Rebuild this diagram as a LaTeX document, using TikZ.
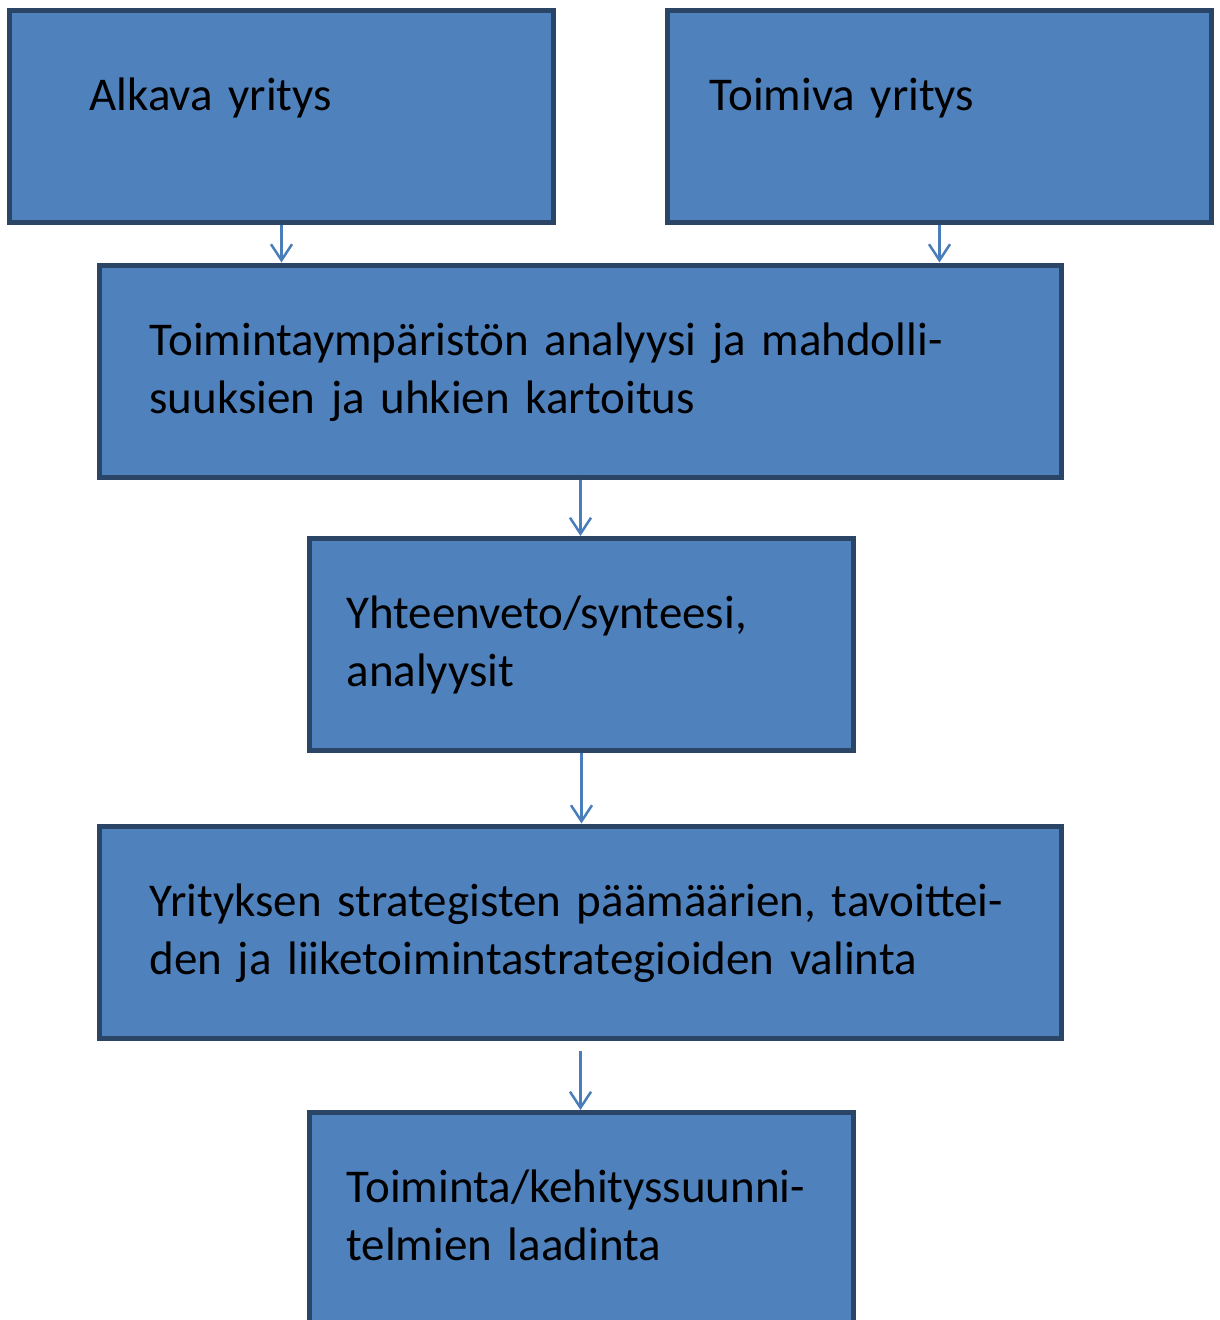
\documentclass[tikz,border=0pt]{standalone}
\usepackage{fontspec}
\setmainfont{Carlito}
\usetikzlibrary{arrows.meta,positioning}

\definecolor{boxfill}{HTML}{4F81BD}
\definecolor{boxline}{HTML}{2A4566}
\definecolor{arrowblue}{HTML}{4A7EBB}

\begin{document}
\begin{tikzpicture} [
		x=1pt, y=-1pt,
		box/.style   = { rectangle, draw=boxline, fill=boxfill, line width=5pt,
			anchor=north west, inner sep=0pt, align=left,
			minimum height=212pt, text height=36pt, text depth=68pt,
			font=\fontsize{47pt}{58pt}\selectfont },
		narrow/.style = { box, minimum width=544pt, text width=470pt },
		wide/.style   = { box, minimum width=962pt, text width=862pt },
		line/.style   = { draw=arrowblue, line width=2.5pt,
			-{Straight Barb[length=16pt, width=21pt, line width=2.5pt]} },
	]
	\useasboundingbox (0,0) rectangle (1219,1320);
	% boxes
	\begin{scope}
		\node [narrow, text width=384pt, text depth=49pt] (alkava) at (7,8) {Alkava yritys};
		\node [narrow, text width=460pt, text depth=49pt] (toimiva) at (665,8) {Toimiva yritys};
		\node [wide] (analyysi) at (97,262.5) {Toimintaympäristön analyysi ja mahdolli-\\suuksien ja uhkien kartoitus};
		\node [narrow] (synteesi) at (307,536) {Yhteenveto/synteesi,\\analyysit};
		\node [wide] (valinta) at (97,823.5) {Yrityksen strategisten päämäärien, tavoittei-\\den ja liiketoimintastrategioiden valinta};
		\node [narrow] (suunnitelma) at (307,1110) {Toiminta/kehityssuunni-\\telmien laadinta};
	\end{scope}
	% arrows between the boxes
	\begin{scope} [every path/.style=line]
		\path (alkava.south)   -- (alkava.south |- analyysi.north);
		\path (toimiva.south)  -- (toimiva.south |- analyysi.north);
		\path (analyysi.south) -- (analyysi.south |- synteesi.north);
		\path (synteesi.south) -- (synteesi.south |- valinta.north);
		\path [shorten <=10pt] (valinta.south) -- (valinta.south |- suunnitelma.north);
	\end{scope}
\end{tikzpicture}
\end{document}
